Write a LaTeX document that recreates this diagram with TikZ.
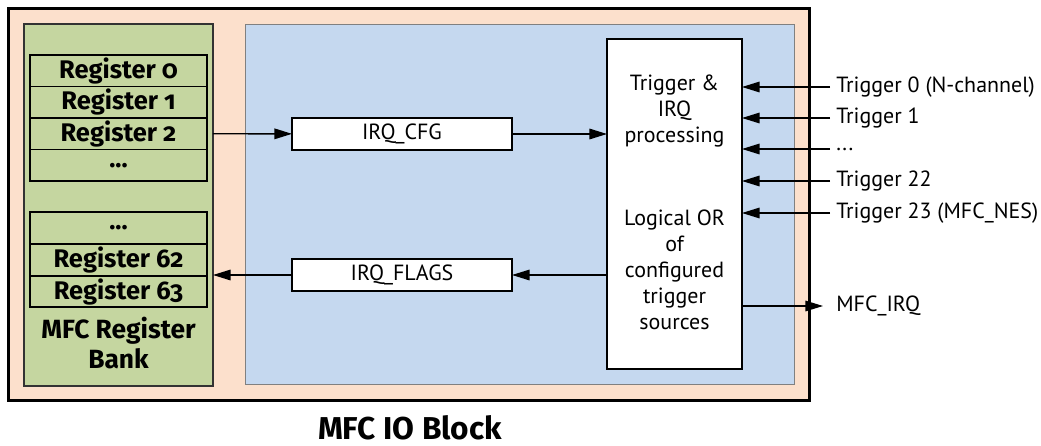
\documentclass[tikz,border=0pt]{standalone}
\usepackage{fontspec}
\setmainfont{PT Sans}
\newfontfamily\regfont[Numbers=OldStyle]{Fira Sans}
\usetikzlibrary{arrows.meta}
\definecolor{peach}{RGB}{252,224,204}
\definecolor{bankgreen}{RGB}{197,214,160}
\definecolor{coreblue}{RGB}{197,216,239}
\begin{document}
\begin{tikzpicture}[
  x=0.02cm, y=-0.02cm,
  block/.style={draw, inner sep=0, outer sep=0},
  reg/.style={block, line width=1.1pt, fill=bankgreen, minimum width=3.54cm, minimum height=0.63cm, font=\regfont\bfseries\fontsize{14.5}{16}\selectfont},
  field/.style={block, line width=0.8pt, fill=white, minimum width=4.4cm, minimum height=0.64cm, font=\fontsize{12.5}{14}\selectfont},
  sig/.style={anchor=west, inner xsep=0.12cm, inner ysep=0, font=\fontsize{12.5}{14}\selectfont},
  arrow/.style={-{Triangle[length=10pt,width=6pt]}, line width=0.8pt}
]
\useasboundingbox (0,0) rectangle (1041,446);
\node[block, line width=1.7pt, fill=peach, minimum width=16.04cm, minimum height=7.86cm] (io) at (409,204.5) {};
\node[block, draw=gray, line width=0.6pt, fill=coreblue, minimum width=11cm, minimum height=7.22cm] (core) at (520,204.5) {};
\node[block, line width=1.1pt, draw=black!80, fill=bankgreen, minimum width=3.78cm, minimum height=7.24cm] (bank) at (118.5,205) {};

\node[reg] (reg0) at (118.5,70.75) {Register 0};
\node[reg] (reg1) at (118.5,102.25) {Register 1};
\node[reg] (reg2) at (118.5,133.75) {Register 2};
\node[reg] (rega) at (118.5,165.25) {...};
\node[reg] (regb) at (118.5,228) {...};
\node[reg] (reg62) at (118.5,260) {Register 62};
\node[reg] (reg63) at (118.5,291.5) {Register 63};
\node[align=center, font=\regfont\bfseries\fontsize{15}{17}\selectfont] (banklbl) at (118.5,343) {MFC Register\\Bank};

\node[field] (cfg) at (402,134) {IRQ\_CFG};
\node[field] (flags) at (402,275) {IRQ\_FLAGS};
\node[block, line width=0.8pt, fill=white, minimum width=2.7cm, minimum height=6.6cm] (proc) at (674.5,204) {};
\node[align=center, font=\fontsize{12.5}{14.8}\selectfont] (proctop) at (674.5,111) {Trigger \&\\IRQ\\processing};
\node[align=center, font=\fontsize{12.5}{14.8}\selectfont] (procbot) at (674.5,270) {Logical OR\\of\\configured\\trigger\\sources};

\node[sig] (t0) at (830,87) {Trigger 0 (N-channel)};
\node[sig] (t1) at (830,118) {Trigger 1};
\node[sig] (tdots) at (830,149) {...};
\node[sig] (t22) at (830,181) {Trigger 22};
\node[sig] (t23) at (830,213) {Trigger 23 (MFC\_NES)};
\node[sig, inner xsep=0.26cm] (irq) at (823,306) {MFC\_IRQ};

\draw[arrow] (reg2 -| bank.east) -- (cfg);
\draw[arrow] (cfg) -- (cfg -| proc.west);
\draw[arrow] (flags -| proc.west) -- (flags);
\draw[arrow] (flags) -- (flags -| bank.east);
\draw[arrow] (t0.west) -- (t0.west -| proc.east);
\draw[arrow] (t1.west) -- (t1.west -| proc.east);
\draw[arrow] (tdots.west) -- (tdots.west -| proc.east);
\draw[arrow] (t22.west) -- (t22.west -| proc.east);
\draw[arrow] (t23.west) -- (t23.west -| proc.east);
\draw[arrow] (irq.west -| proc.east) -- (irq.west);

\node[inner sep=0, font=\regfont\bfseries\fontsize{18}{21}\selectfont] (caption) at (410,428) {MFC IO Block};
\end{tikzpicture}
\end{document}
